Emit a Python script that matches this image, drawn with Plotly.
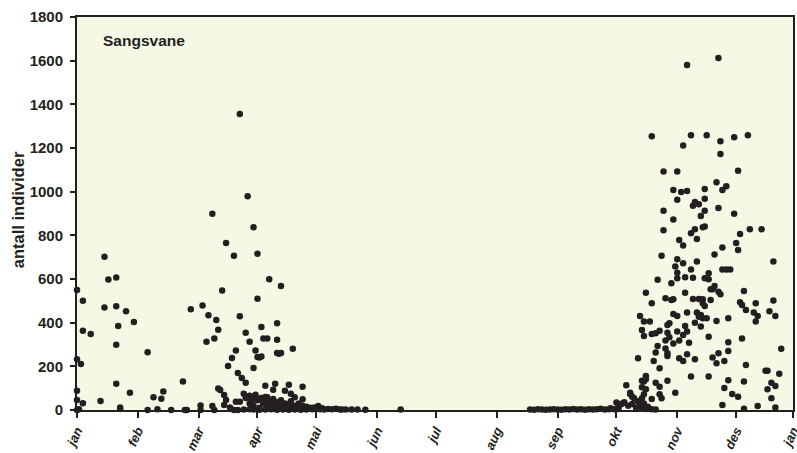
import plotly.graph_objects as go

# Day of year (0 = 1 Jan) and number of individuals (Sangsvane / whooper swan)
spring_days = [0, 3, 3, 7, 0, 2, 0, 0, 3, 1, 0, 12, 14, 16, 20, 14, 20, 25, 21, 29, 20, 20, 27, 22, 22,
               36, 36, 39, 41, 43, 44, 48, 54, 55, 56, 63, 63, 58, 64, 66, 67, 70, 71, 72, 69, 70, 69,
               74, 76, 80, 72, 73, 75, 76, 75, 78, 80, 82, 77, 79, 81, 83, 82, 84, 86, 86, 88, 90, 92,
               92, 90, 91, 92, 93, 94, 94, 95, 97, 98, 102, 102, 102, 103, 104, 104, 110, 96, 101, 100,
               108, 106, 109, 111, 115, 115, 83, 87, 81, 83,
               86, 87, 88, 88, 89, 90, 91, 92, 93, 94, 95, 96, 97, 98, 99, 100, 101, 102, 103, 104, 105,
               106, 107, 108, 109, 110, 111, 112, 113, 114, 115, 116, 117, 118, 119, 120, 121, 122, 123,
               124, 125, 126, 128, 130, 132, 134, 135, 137, 140, 143, 147, 165,
               85, 88, 90, 93, 96, 99, 102, 105, 108, 111, 114, 117, 85, 89, 91, 93, 95, 97]
spring_counts = [550, 500, 363, 348, 232, 211, 88, 46, 31, 3, 0, 41, 702, 598, 607, 470, 475, 452, 385, 403, 299, 120, 79, 12, 5,
                 264, 0, 58, 4, 52, 85, 0, 130, 0, 0, 21, 0, 461, 479, 313, 434, 327, 412, 368, 899, 0, 18,
                 547, 765, 707, 99, 92, 69, 46, 23, 12, 0, 0, 202, 238, 273, 429, 169, 147, 125, 354, 313, 837, 716,
                 510, 192, 273, 243, 240, 245, 380, 327, 327, 599, 397, 322, 261, 258, 261, 568, 281, 111, 120, 93,
                 116, 88, 75, 58, 107, 49, 1356, 979, 38, 38,
                 55, 60, 65, 30, 40, 20, 70, 45, 10, 55, 30, 60, 15, 40, 25, 50, 10, 35, 20, 45, 15,
                 30, 5, 25, 40, 15, 20, 8, 30, 12, 20, 5, 15, 8, 10, 3, 12, 5, 18,
                 4, 8, 2, 5, 3, 6, 2, 2, 2, 2, 2, 1, 2,
                 2, 3, 2, 1, 2, 3, 1, 2, 1, 2, 1, 2, 75, 50, 62, 48, 35, 58]

autumn_days = [231, 233, 235, 237, 239, 241, 243, 245, 247, 249, 251, 253, 255, 257, 259, 261, 263, 265, 267, 269,
               271, 272, 274, 276,
               275, 278, 279, 280, 282, 282, 283, 284, 276, 277, 281, 283, 285, 286, 287, 288, 289, 290, 291, 293, 295,
               286, 288, 289, 290, 290, 288, 290, 289, 288, 297, 298, 293, 305, 301, 297, 295, 297, 294, 309, 307,
               315, 313, 311, 295, 300, 301, 301, 296, 312, 300, 304, 307, 301, 302, 306, 309, 311, 293, 295, 297,
               288, 289, 301, 302, 310, 315, 289, 292, 287, 304, 306, 311, 316, 317, 293, 300, 303, 304, 314, 317,
               290, 310, 296, 303, 306, 310, 314, 306, 313, 305, 309, 316, 306, 298,
               293, 313, 309, 299, 306, 304, 308, 311, 306, 315, 314, 317, 299, 304, 318, 299, 315, 313, 316, 307,
               309, 311, 327,
               321, 328, 335, 342, 328, 337, 326, 331, 329, 320, 320, 320, 327, 335, 319, 320, 338, 343, 349, 336,
               337, 329, 325,
               355, 322, 320, 322, 329, 331, 333, 325, 323, 324, 327, 328, 340, 319, 319, 320, 323, 338, 339, 341,
               346, 355, 353, 356, 345, 347, 346, 318, 319, 321, 318, 326, 332, 322, 332, 339, 359, 332, 324, 327,
               326, 330, 341, 351, 352, 358, 322, 332, 340, 354, 356, 330, 334, 337, 352, 354, 329, 340, 347, 356]
autumn_counts = [2, 1, 3, 2, 1, 2, 4, 2, 1, 3, 2, 5, 2, 3, 1, 4, 2, 3, 6, 2,
                 4, 8, 3, 5,
                 34, 30, 36, 113, 79, 73, 61, 54, 15, 25, 20, 28, 12, 40, 18, 8, 30, 5, 15, 3, 2,
                 237, 134, 130, 156, 141, 104, 95, 72, 54, 72, 54, 50, 79, 134, 107, 125, 191, 224, 224, 237,
                 232, 153, 255, 263, 282, 260, 247, 293, 308, 318, 305, 318, 354, 333, 359, 344, 359, 348, 351, 363,
                 366, 339, 389, 397, 385, 400, 405, 405, 431, 440, 431, 446, 446, 427, 489, 512, 504, 507, 508, 508,
                 537, 537, 596, 580, 603, 608, 606, 629, 644, 657, 672, 680, 690, 707,
                 1254, 1258, 1212, 1092, 1092, 1008, 999, 1003, 963, 953, 935, 942, 913, 873, 889, 823, 828, 809, 783, 779,
                 753, 1580, 1612,
                 1258, 1231, 1249, 1258, 1173, 1096, 1043, 1025, 1008, 1012, 967, 913, 925, 899, 837, 841, 806, 828, 828, 765,
                 733, 744, 712,
                 680, 626, 603, 599, 644, 644, 644, 568, 553, 553, 542, 530, 545, 507, 489, 476, 504, 493, 481, 458,
                 489, 501, 452, 431, 446, 431, 405, 435, 420, 420, 382, 408, 420, 336, 310, 328, 281, 270, 241, 260,
                 214, 224, 206, 180, 180, 166, 153, 136, 130, 125, 110, 101, 73, 61, 95, 54, 23, 6, 18, 12]

month_labels = ["jan", "feb", "mar", "apr", "mai", "jun", "jul", "aug", "sep", "okt", "nov", "des", "jan"]
month_ticks = [0, 31, 62, 92, 122, 153, 183, 214, 245, 275, 306, 336, 365]
y_ticks = [0, 200, 400, 600, 800, 1000, 1200, 1400, 1600, 1800]

FONT = "Liberation Sans, Arial, sans-serif"
DOT = "#231f20"

fig = go.Figure()
for d, c in [(spring_days, spring_counts), (autumn_days, autumn_counts)]:
    fig.add_trace(go.Scatter(x=d, y=c, mode="markers", cliponaxis=False,
                             marker=dict(size=6.5, color=DOT), showlegend=False))

fig.update_layout(
    width=797, height=453,
    margin=dict(l=77, r=4, t=17, b=43),
    paper_bgcolor="white", plot_bgcolor="#f6f8e6",
    font=dict(family=FONT, color="#231f20"),
    annotations=[
        dict(text="<b>Sangsvane</b>", xref="paper", yref="paper", x=0.034, y=0.94,
             xanchor="left", yanchor="middle", showarrow=False,
             font=dict(size=15.5, family=FONT, color="#231f20")),
        dict(text="<b>antall individer</b>", xref="paper", yref="paper", x=-0.083, y=0.51,
             xanchor="center", yanchor="middle", textangle=-90, showarrow=False,
             font=dict(size=16.5, family=FONT, color="#231f20")),
    ],
)
fig.update_xaxes(range=[0, 365], tickvals=month_ticks, automargin=False,
                 ticktext=[f"<b><i>{m}</i></b>" for m in month_labels],
                 tickangle=-65, tickfont=dict(size=13, family=FONT), ticklabeloverflow="allow",
                 showgrid=False, zeroline=False, showline=True, linecolor="#231f20", linewidth=2,
                 mirror=True, ticks="outside", ticklen=6, tickwidth=1.5, tickcolor="#231f20")
fig.update_yaxes(range=[0, 1800], tickvals=y_ticks, automargin=False,
                 ticktext=[f"<b>{v}</b>" for v in y_ticks],
                 tickfont=dict(size=15, family=FONT), ticklabelstandoff=4,
                 showgrid=False, zeroline=False, showline=True, linecolor="#231f20", linewidth=2,
                 mirror=True, ticks="outside", ticklen=5, tickwidth=1.5, tickcolor="#231f20")

fig.write_html("out.html", config={"displayModeBar": False},
               post_script="document.body.style.margin='0';document.body.style.overflow='hidden';")
